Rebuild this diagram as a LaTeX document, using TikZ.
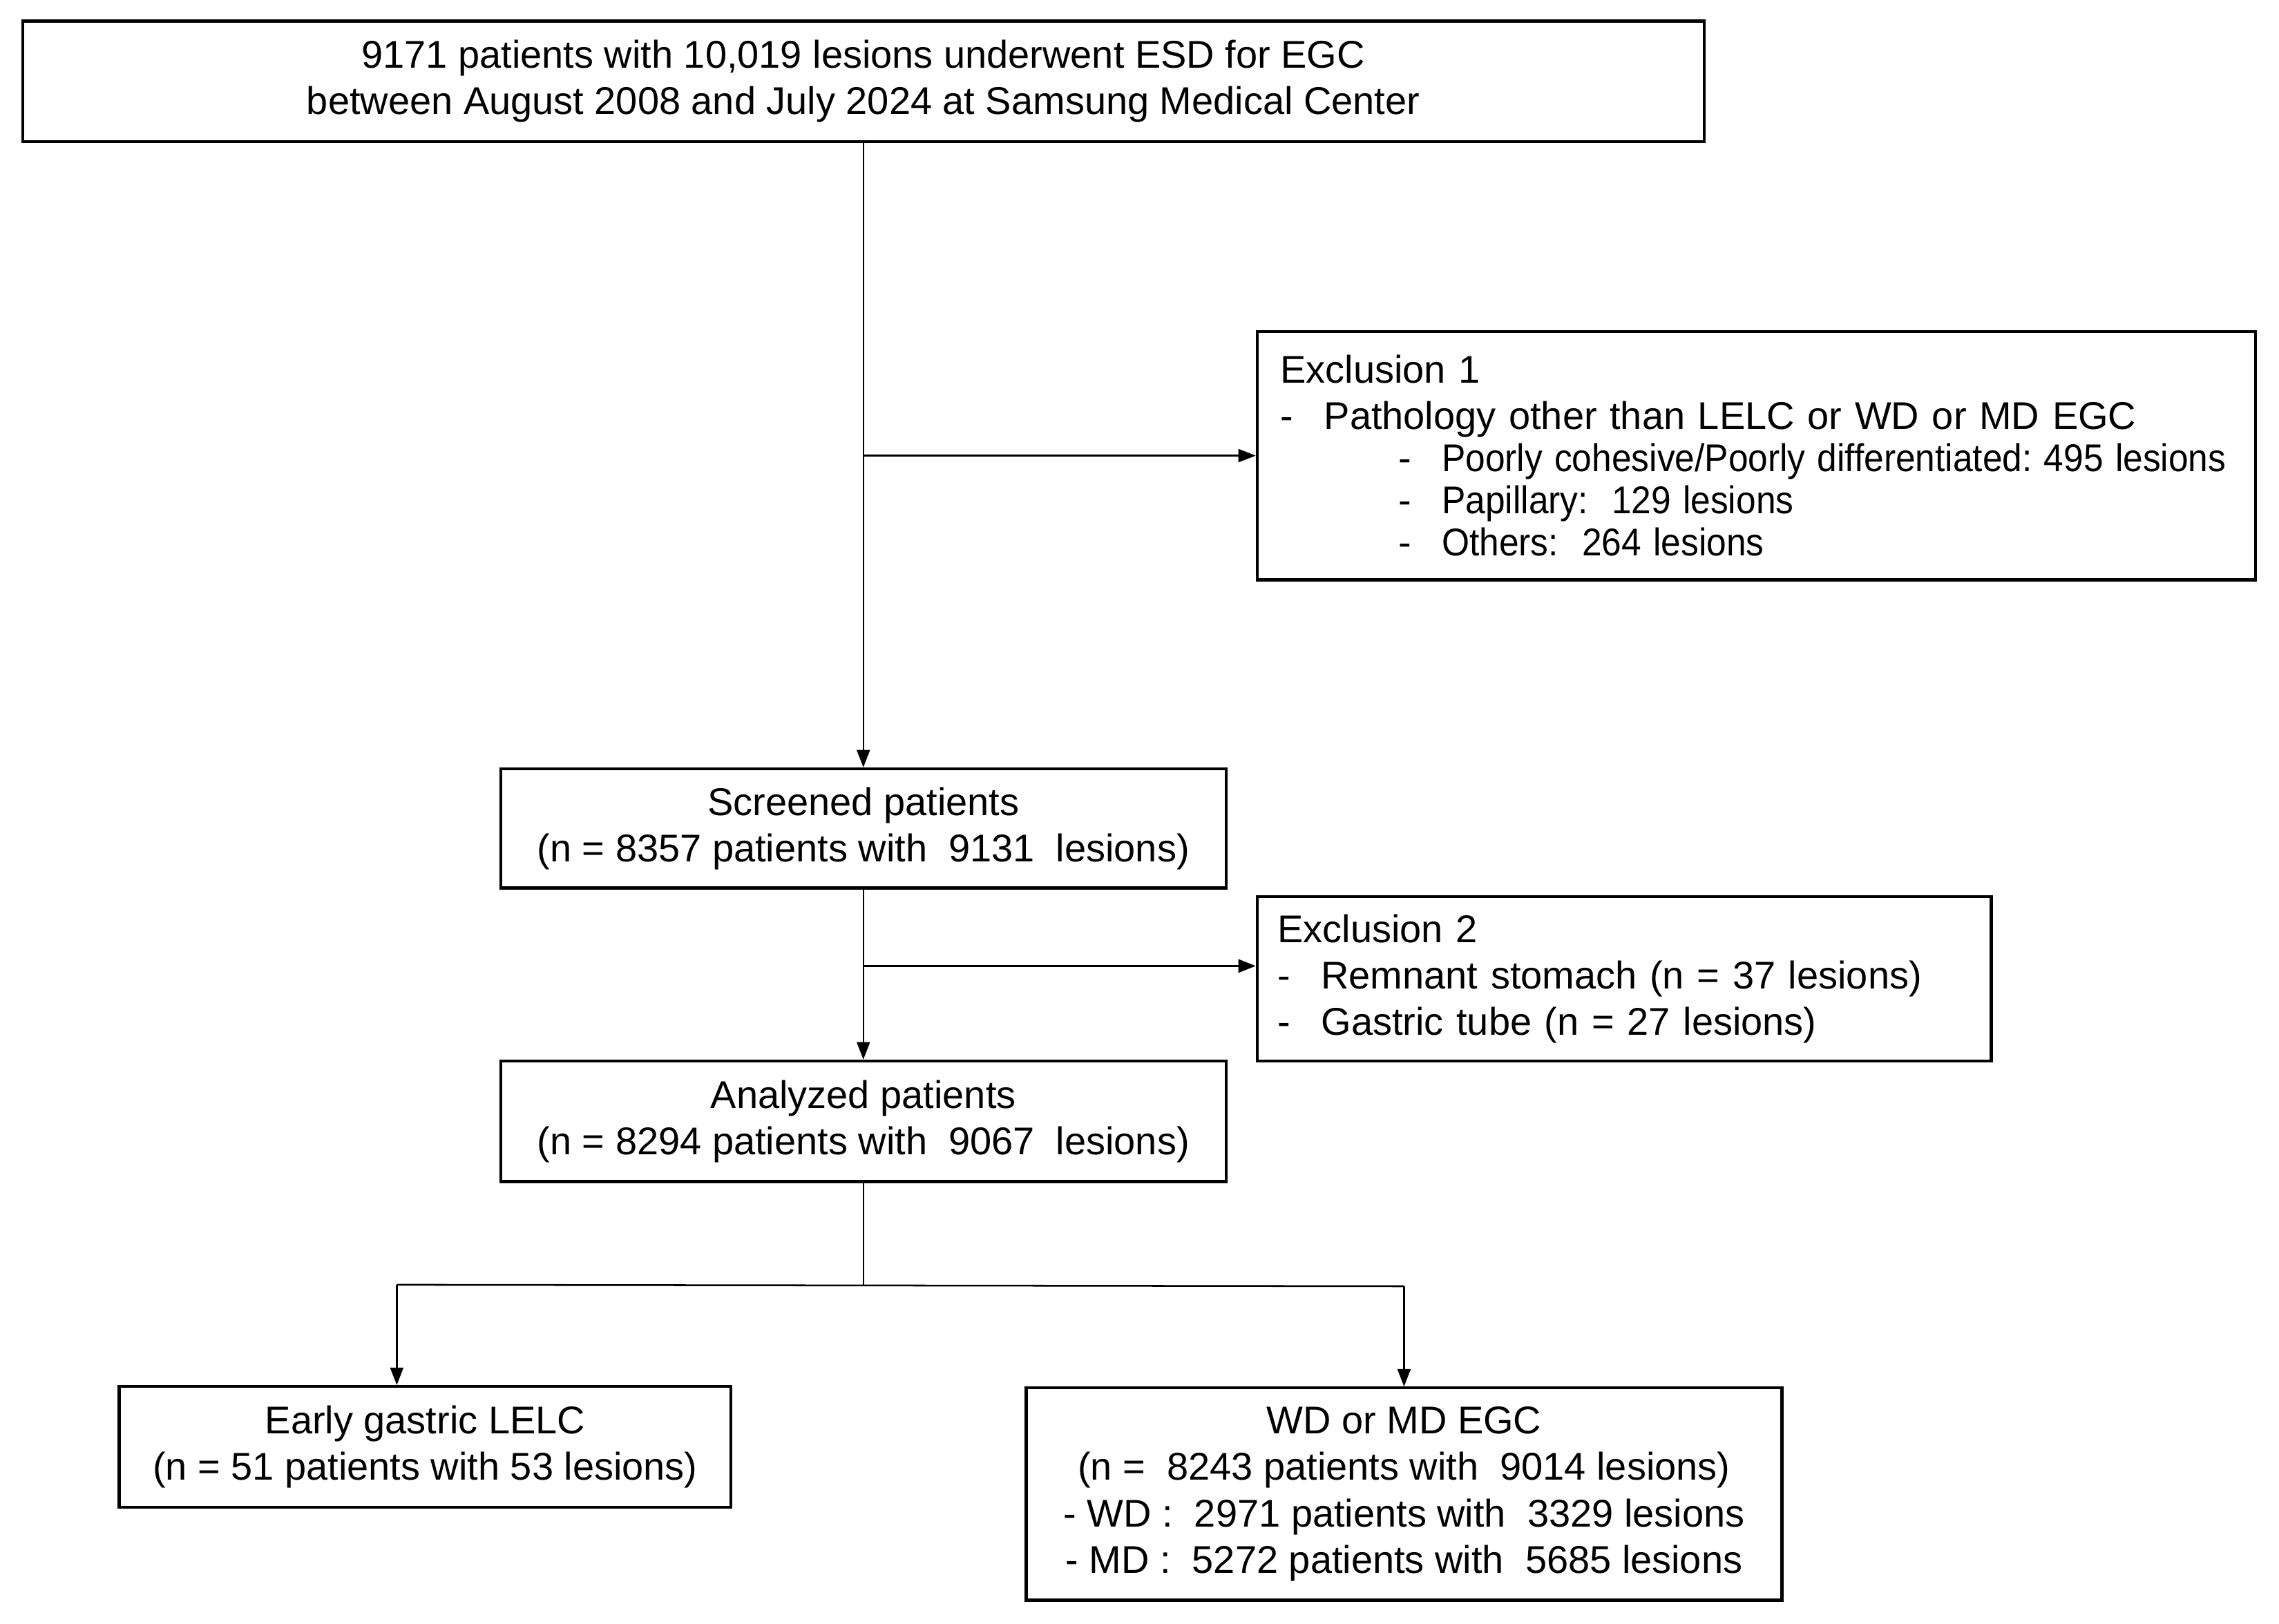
\documentclass[tikz,border=0pt]{standalone}
\usepackage{fontspec}
\usepackage{graphicx}
\setmainfont{Liberation Sans}
\usetikzlibrary{positioning,calc,arrows.meta}
\frenchspacing

\tikzset{
  >={Triangle[length=6pt,width=4.5pt]},
  box/.style={draw, line width=1pt, inner sep=0pt, align=center},
  exclbox/.style={draw, line width=1pt, inner ysep=0pt, align=left},
  link/.style={line width=0.6pt},
}
\newcommand{\dash}{\makebox[15pt][l]{-}}
\newcommand{\exclsub}[1]{\mbox{\hspace*{40.5pt}\dash\scalebox{0.92}[1]{#1}}}

\begin{document}
\begin{tikzpicture}[x=0.5pt,y=-0.5pt,font=\fontsize{13.3}{16}\selectfont]
    \useasboundingbox (0,0) rectangle (1568,1117);

    \node[box, minimum width=578.5pt, minimum height=41.5pt] (start) at (594,56)
        {9171 patients with 10,019 lesions underwent ESD for EGC\\between August 2008 and July 2024 at Samsung Medical Center};
    \node[exclbox, inner xsep=8pt, text width=327.5pt, minimum height=85.5pt] (excl1) at (1208.5,313.5)
        {Exclusion 1\\
         \mbox{\dash Pathology other than LELC or WD or MD EGC}\\[-1.5pt]
         \exclsub{Poorly cohesive/Poorly differentiated: 495 lesions}\\[-1.5pt]
         \exclsub{Papillary:\ \ 129 lesions}\\[-1.5pt]
         \exclsub{Others:\ \ 264 lesions}};
    \node[box, minimum width=249.5pt, minimum height=41pt] (screen) at (594,570)
        {Screened patients\\(n = 8357 patients with \ 9131 \ lesions)};
    \node[exclbox, inner xsep=7pt, text width=238.5pt, minimum height=56.5pt] (excl2) at (1117.5,673.5)
        {Exclusion 2\\
         \dash Remnant stomach (n = 37 lesions)\\
         \dash Gastric tube (n = 27 lesions)};
    \node[box, minimum width=249.5pt, minimum height=41.5pt] (analyzed) at (594,771.5)
        {Analyzed patients\\(n = 8294 patients with \ 9067 \ lesions)};
    \node[box, minimum width=210.5pt, minimum height=41.5pt] (lelc) at (292.5,995.5)
        {Early gastric LELC\\(n = 51 patients with 53 lesions)};
    \node[box, minimum width=260pt, minimum height=73pt] (wdmd) at (966,1028)
        {WD or MD EGC\\(n = \ 8243 patients with \ 9014 lesions)\\
         - WD : \ 2971 patients with \ 3329 lesions\\
         - MD : \ 5272 patients with \ 5685 lesions};

    \coordinate (xmark1) at (start.south |- excl1.west);
    \coordinate (xmark2) at ($ (screen.south)!.45!(analyzed.north) $);
    \coordinate (xsplit) at ($ (analyzed.south) + (0,71) $);
    \coordinate (xleft) at (273,884);
    \coordinate (xright) at (xsplit -| wdmd.north);

    \draw[link,->] (start.south) -- (screen.north);
    \draw[link,->] (xmark1) -- (excl1.west);
    \draw[link,->] (screen.south) -- (analyzed.north);
    \draw[link,line width=0.9pt,->] (xmark2) -- (xmark2 -| excl2.west);
    \draw[link] (analyzed.south) -- (xsplit);
    \draw[link] (xleft) -- (xright);
    \draw[link,->] (xleft) -- (xleft |- lelc.north);
    \draw[link,->] (xright) -- (wdmd.north);
\end{tikzpicture}
\end{document}
